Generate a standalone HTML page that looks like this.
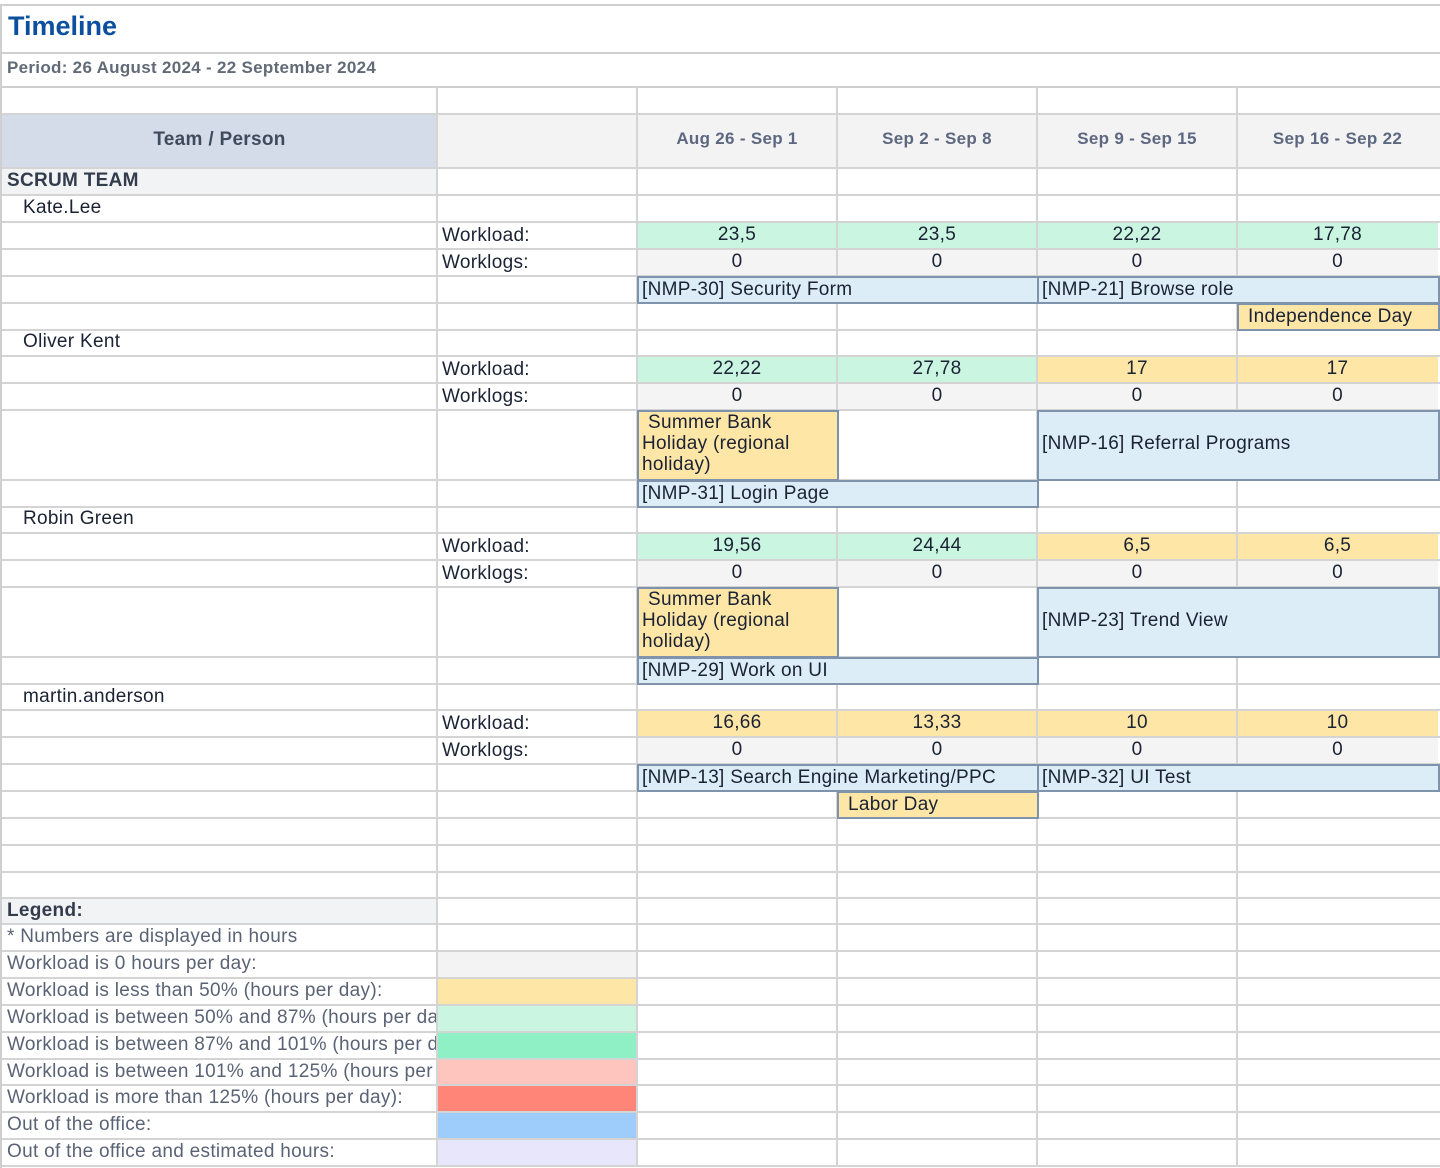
<!DOCTYPE html>
<html><head><meta charset="utf-8"><style>
*{margin:0;padding:0;box-sizing:border-box}
body{width:1440px;height:1168px;background:#fff;position:relative;overflow:hidden;font-family:"Liberation Sans",sans-serif;color:#1a2233}
div{position:absolute}
.h{left:2px;width:1438px;height:2px;background:#d4d4d4}
.v{width:2px;background:#d4d4d4}
.t{font-size:19px;white-space:nowrap;overflow:hidden;letter-spacing:0.3px;margin-top:1px}
.n{font-size:19px;text-align:center;letter-spacing:0.3px}
.g{color:#5a6375}
.task{background:#ddedf8;border:2px solid #7f93ad;font-size:19px;padding-left:3px;white-space:nowrap;overflow:hidden;letter-spacing:0.3px}
.hol{background:#fde6a6;border:2px solid #7f93ad;font-size:19px;padding-left:3px;line-height:21px;letter-spacing:0.3px}
.wl{height:25px;line-height:25px}
</style></head><body>
<div style="left:0;top:4px;width:1440px;height:2px;background:#cfcfcf"></div>
<div style="left:0;top:4px;width:2px;height:1164px;background:#cfcfcf"></div>
<div style="left:8px;top:11px;font-size:27px;font-weight:bold;color:#0c4f9e">Timeline</div>
<div style="left:0;top:52px;width:1440px;height:2px;background:#cfcfcf"></div>
<div style="left:7px;top:58px;font-size:17px;font-weight:bold;color:#626a78;letter-spacing:0.3px">Period: 26 August 2024 - 22 September 2024</div>
<div style="left:0;top:86px;width:1440px;height:2px;background:#cfcfcf"></div>

<div style="left:2px;top:115px;width:435px;height:53px;background:#d3dce8"></div>
<div style="left:437px;top:115px;width:1003px;height:53px;background:#f3f3f3"></div>
<div style="left:2px;top:168px;width:435px;height:27px;background:#f2f3f5"></div>
<div style="left:2px;top:898px;width:435px;height:26px;background:#f2f3f5"></div>
<div style="left:637px;top:222px;width:801px;height:27px;background:#c9f5e1"></div>
<div style="left:637px;top:356px;width:400px;height:27px;background:#c9f5e1"></div>
<div style="left:1037px;top:356px;width:401px;height:27px;background:#fde6a6"></div>
<div style="left:637px;top:533px;width:400px;height:27px;background:#c9f5e1"></div>
<div style="left:1037px;top:533px;width:401px;height:27px;background:#fde6a6"></div>
<div style="left:637px;top:710px;width:801px;height:27px;background:#fde6a6"></div>
<div style="left:637px;top:249px;width:801px;height:27px;background:#f4f4f4"></div>
<div style="left:637px;top:383px;width:801px;height:27px;background:#f4f4f4"></div>
<div style="left:637px;top:560px;width:801px;height:27px;background:#f4f4f4"></div>
<div style="left:637px;top:737px;width:801px;height:27px;background:#f4f4f4"></div>
<div style="left:437px;top:951px;width:200px;height:27px;background:#f3f3f3"></div>
<div style="left:437px;top:978px;width:200px;height:27px;background:#fde6a6"></div>
<div style="left:437px;top:1005px;width:200px;height:27px;background:#c9f5e1"></div>
<div style="left:437px;top:1032px;width:200px;height:27px;background:#8ff0c6"></div>
<div style="left:437px;top:1059px;width:200px;height:26px;background:#fdc5be"></div>
<div style="left:437px;top:1085px;width:200px;height:27px;background:#fe8577"></div>
<div style="left:437px;top:1112px;width:200px;height:27px;background:#9fcdfb"></div>
<div style="left:437px;top:1139px;width:200px;height:27px;background:#e7e6fa"></div>

<div class="h" style="top:113px"></div><div class="h" style="top:167px"></div><div class="h" style="top:194px"></div><div class="h" style="top:221px"></div><div class="h" style="top:248px"></div><div class="h" style="top:275px"></div><div class="h" style="top:302px"></div><div class="h" style="top:329px"></div><div class="h" style="top:355px"></div><div class="h" style="top:382px"></div><div class="h" style="top:409px"></div><div class="h" style="top:479px"></div><div class="h" style="top:506px"></div><div class="h" style="top:532px"></div><div class="h" style="top:559px"></div><div class="h" style="top:586px"></div><div class="h" style="top:656px"></div><div class="h" style="top:683px"></div><div class="h" style="top:709px"></div><div class="h" style="top:736px"></div><div class="h" style="top:763px"></div><div class="h" style="top:790px"></div><div class="h" style="top:817px"></div><div class="h" style="top:844px"></div><div class="h" style="top:871px"></div><div class="h" style="top:897px"></div><div class="h" style="top:923px"></div><div class="h" style="top:950px"></div><div class="h" style="top:977px"></div><div class="h" style="top:1004px"></div><div class="h" style="top:1031px"></div><div class="h" style="top:1058px"></div><div class="h" style="top:1084px"></div><div class="h" style="top:1111px"></div><div class="h" style="top:1138px"></div><div class="h" style="top:1165px"></div>
<div class="v" style="left:436px;top:87px;height:1080px"></div>
<div class="v" style="left:636px;top:87px;height:1080px"></div>
<div class="v" style="left:836px;top:87px;height:1080px"></div>
<div class="v" style="left:1036px;top:87px;height:1080px"></div>
<div class="v" style="left:1236px;top:87px;height:1080px"></div>

<div style="left:2px;top:115px;width:435px;height:53px;line-height:50px;text-align:center;font-size:19px;font-weight:bold;color:#3f4a5c;letter-spacing:0.3px">Team / Person</div>
<div style="left:637px;top:115px;width:200px;line-height:48px;text-align:center;font-size:17px;font-weight:bold;color:#5d6880;letter-spacing:0.3px">Aug 26 - Sep 1</div>
<div style="left:837px;top:115px;width:200px;line-height:48px;text-align:center;font-size:17px;font-weight:bold;color:#5d6880;letter-spacing:0.3px">Sep 2 - Sep 8</div>
<div style="left:1037px;top:115px;width:200px;line-height:48px;text-align:center;font-size:17px;font-weight:bold;color:#5d6880;letter-spacing:0.3px">Sep 9 - Sep 15</div>
<div style="left:1237px;top:115px;width:201px;line-height:48px;text-align:center;font-size:17px;font-weight:bold;color:#5d6880;letter-spacing:0.3px">Sep 16 - Sep 22</div>

<div class="t" style="left:7px;top:169px;font-weight:bold;color:#333c4c">SCRUM TEAM</div>

<div class="t" style="left:23px;top:196px">Kate.Lee</div>
<div class="t wl" style="left:442px;top:222px">Workload:</div>
<div class="n wl" style="left:637px;top:222px;width:200px">23,5</div><div class="n wl" style="left:837px;top:222px;width:200px">23,5</div><div class="n wl" style="left:1037px;top:222px;width:200px">22,22</div><div class="n wl" style="left:1237px;top:222px;width:201px">17,78</div>
<div class="t wl" style="left:442px;top:249px">Worklogs:</div>
<div class="n wl" style="left:637px;top:249px;width:200px">0</div><div class="n wl" style="left:837px;top:249px;width:200px">0</div><div class="n wl" style="left:1037px;top:249px;width:200px">0</div><div class="n wl" style="left:1237px;top:249px;width:201px">0</div>
<div class="task" style="left:637px;top:276px;width:402px;height:28px;line-height:23px">[NMP-30] Security Form</div>
<div class="task" style="left:1037px;top:276px;width:403px;height:28px;line-height:23px">[NMP-21] Browse role</div>
<div class="hol" style="left:1237px;top:303px;width:203px;height:28px;line-height:23px;padding-left:9px">Independence Day</div>

<div class="t" style="left:23px;top:330px">Oliver Kent</div>
<div class="t wl" style="left:442px;top:356px">Workload:</div>
<div class="n wl" style="left:637px;top:356px;width:200px">22,22</div><div class="n wl" style="left:837px;top:356px;width:200px">27,78</div><div class="n wl" style="left:1037px;top:356px;width:200px">17</div><div class="n wl" style="left:1237px;top:356px;width:201px">17</div>
<div class="t wl" style="left:442px;top:383px">Worklogs:</div>
<div class="n wl" style="left:637px;top:383px;width:200px">0</div><div class="n wl" style="left:837px;top:383px;width:200px">0</div><div class="n wl" style="left:1037px;top:383px;width:200px">0</div><div class="n wl" style="left:1237px;top:383px;width:201px">0</div>
<div class="hol" style="left:637px;top:410px;width:202px;height:71px"><span style="padding-left:6px">Summer Bank</span><br>Holiday (regional<br>holiday)</div>
<div class="task" style="left:1037px;top:410px;width:403px;height:71px;line-height:64px">[NMP-16] Referral Programs</div>
<div class="task" style="left:637px;top:480px;width:402px;height:28px;line-height:23px">[NMP-31] Login Page</div>

<div class="t" style="left:23px;top:507px">Robin Green</div>
<div class="t wl" style="left:442px;top:533px">Workload:</div>
<div class="n wl" style="left:637px;top:533px;width:200px">19,56</div><div class="n wl" style="left:837px;top:533px;width:200px">24,44</div><div class="n wl" style="left:1037px;top:533px;width:200px">6,5</div><div class="n wl" style="left:1237px;top:533px;width:201px">6,5</div>
<div class="t wl" style="left:442px;top:560px">Worklogs:</div>
<div class="n wl" style="left:637px;top:560px;width:200px">0</div><div class="n wl" style="left:837px;top:560px;width:200px">0</div><div class="n wl" style="left:1037px;top:560px;width:200px">0</div><div class="n wl" style="left:1237px;top:560px;width:201px">0</div>
<div class="hol" style="left:637px;top:587px;width:202px;height:71px"><span style="padding-left:6px">Summer Bank</span><br>Holiday (regional<br>holiday)</div>
<div class="task" style="left:1037px;top:587px;width:403px;height:71px;line-height:64px">[NMP-23] Trend View</div>
<div class="task" style="left:637px;top:657px;width:402px;height:28px;line-height:23px">[NMP-29] Work on UI</div>

<div class="t" style="left:23px;top:685px">martin.anderson</div>
<div class="t wl" style="left:442px;top:710px">Workload:</div>
<div class="n wl" style="left:637px;top:710px;width:200px">16,66</div><div class="n wl" style="left:837px;top:710px;width:200px">13,33</div><div class="n wl" style="left:1037px;top:710px;width:200px">10</div><div class="n wl" style="left:1237px;top:710px;width:201px">10</div>
<div class="t wl" style="left:442px;top:737px">Worklogs:</div>
<div class="n wl" style="left:637px;top:737px;width:200px">0</div><div class="n wl" style="left:837px;top:737px;width:200px">0</div><div class="n wl" style="left:1037px;top:737px;width:200px">0</div><div class="n wl" style="left:1237px;top:737px;width:201px">0</div>
<div class="task" style="left:637px;top:764px;width:402px;height:28px;line-height:23px">[NMP-13] Search Engine Marketing/PPC</div>
<div class="task" style="left:1037px;top:764px;width:403px;height:28px;line-height:23px">[NMP-32] UI Test</div>
<div class="hol" style="left:837px;top:791px;width:202px;height:28px;line-height:23px;padding-left:9px">Labor Day</div>

<div class="t" style="left:7px;top:899px;font-weight:bold;color:#333c4c">Legend:</div>
<div class="t g" style="left:7px;top:925px;width:428px">* Numbers are displayed in hours</div>
<div class="t g" style="left:7px;top:952px;width:428px">Workload is 0 hours per day:</div>
<div class="t g" style="left:7px;top:979px;width:428px">Workload is less than 50% (hours per day):</div>
<div class="t g" style="left:7px;top:1006px;width:429px">Workload is between 50% and 87% (hours per day):</div>
<div class="t g" style="left:7px;top:1033px;width:429px">Workload is between 87% and 101% (hours per day):</div>
<div class="t g" style="left:7px;top:1060px;width:429px">Workload is between 101% and 125% (hours per day):</div>
<div class="t g" style="left:7px;top:1086px;width:428px">Workload is more than 125% (hours per day):</div>
<div class="t g" style="left:7px;top:1113px;width:428px">Out of the office:</div>
<div class="t g" style="left:7px;top:1140px;width:428px">Out of the office and estimated hours:</div>
</body></html>
